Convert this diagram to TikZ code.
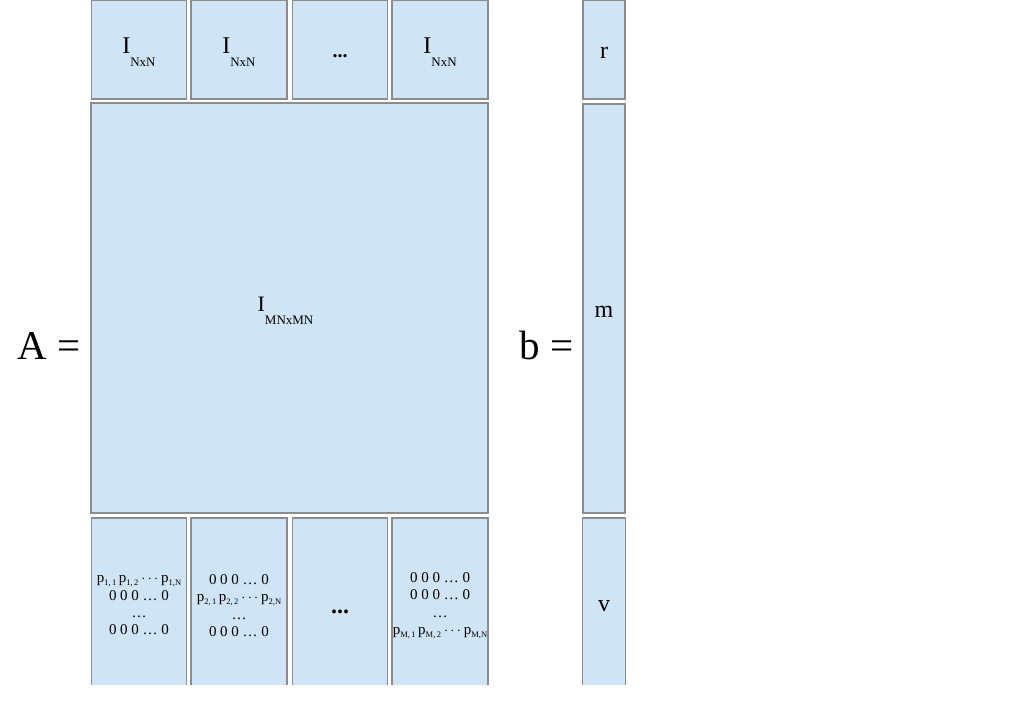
\documentclass[tikz,border=0pt]{standalone}
\usepackage{fontspec}
\setmainfont{Liberation Serif}
\usepackage{tikz}
\usepackage{xcolor}

\definecolor{cellblue}{RGB}{207,228,244}
\definecolor{cellgray}{RGB}{140,140,140}
\tikzset{
  cell/.style={fill=cellblue,draw=cellgray,line width=1.2pt,inner sep=0pt,outer sep=0pt},
  opencell/.style={fill=cellblue,inner sep=0pt,outer sep=0pt},
  celledge/.style={draw=cellgray,line width=1.2pt},
  entries/.style={inner sep=0pt,align=center,font=\fontsize{15}{17.3}\selectfont},
  bigdots/.style={inner sep=0pt,font=\fontsize{#1}{#1}\selectfont\bfseries},
  vecname/.style={inner sep=0pt,font=\fontsize{24}{24}\selectfont}
}
\newcommand{\Ilabel}[3]{{\fontsize{#1}{#1}\selectfont I}\raisebox{-13pt}{\fontsize{#2}{#2}\selectfont #3}}
\newcommand{\pel}[1]{p\raisebox{-3pt}{\fontsize{8.5}{8.5}\selectfont #1}}
\newcommand{\prow}[1]{\pel{#1,\,1}\hspace{2.5pt}\pel{#1,\,2}\hspace{3pt}$\cdots$\hspace{3pt}\pel{#1,N}}
\newcommand{\zrow}{0 0 0 … 0}

\begin{document}
\begin{tikzpicture}[x=1pt,y=-1pt]
    \useasboundingbox (0,0) rectangle (1024,724);
    % top row of A
    \node[cell,minimum width=95pt,minimum height=98.5pt] (top1) at (139,49.75) {};
    \node[cell,minimum width=96pt,minimum height=98.5pt] (top2) at (239,49.75) {};
    \node[cell,minimum width=95pt,minimum height=98.5pt] (top3) at (340,49.75) {};
    \node[cell,minimum width=96pt,minimum height=98.5pt] (top4) at (440,49.75) {};
    \node[inner sep=0pt] (toptext1) at ([yshift=-2pt]top1.center) {\Ilabel{24}{13}{NxN}};
    \node[inner sep=0pt] (toptext2) at ([yshift=-2pt]top2.center) {\Ilabel{24}{13}{NxN}};
    \node[bigdots=20,anchor=base] (toptext3) at ([yshift=-8pt]top3.center) {...};
    \node[inner sep=0pt] (toptext4) at ([yshift=-2pt]top4.center) {\Ilabel{24}{13}{NxN}};
    % middle block of A
    \node[cell,minimum width=397pt,minimum height=410pt] (mid) at (289.5,308) {};
    \node[inner sep=0pt] (midtext) at ([xshift=-4pt,yshift=-3pt]mid.center) {\Ilabel{22}{13}{MNxMN}};
    % bottom row of A (open at the bottom)
    \node[opencell,minimum width=95pt,minimum height=167pt] (bot1) at (139,601.5) {};
    \node[opencell,minimum width=96pt,minimum height=167pt] (bot2) at (239,601.5) {};
    \node[opencell,minimum width=95pt,minimum height=167pt] (bot3) at (340,601.5) {};
    \node[opencell,minimum width=96pt,minimum height=167pt] (bot4) at (440,601.5) {};
    \draw[celledge] (bot1.south west) |- (bot1.north east) -- (bot1.south east);
    \draw[celledge] (bot2.south west) |- (bot2.north east) -- (bot2.south east);
    \draw[celledge] (bot3.south west) |- (bot3.north east) -- (bot3.south east);
    \draw[celledge] (bot4.south west) |- (bot4.north east) -- (bot4.south east);
    \node[entries] (bottext1) at ([yshift=-4pt]bot1.center) {\prow{1}\\ \zrow\\ …\\ \zrow};
    \node[entries] (bottext2) at ([yshift=-4pt]bot2.center) {\zrow\\ \prow{2}\\ …\\ \zrow};
    \node[bigdots=24,anchor=base] (bottext3) at ([yshift=-12pt]bot3.center) {...};
    \node[entries] (bottext4) at ([yshift=-4pt]bot4.center) {\zrow\\ \zrow\\ …\\ \prow{M}};
    % vector b
    \node[cell,minimum width=42pt,minimum height=98.5pt] (br) at (604,49.75) {};
    \node[cell,minimum width=42pt,minimum height=409pt] (bm) at (604,308.5) {};
    \node[opencell,minimum width=43pt,minimum height=167pt] (bv) at (604,601.5) {};
    \draw[celledge] (bv.south west) |- (bv.north east) -- (bv.south east);
    \node[vecname] (rtext) at ([yshift=-3pt]br.center) {r};
    \node[vecname] (mtext) at ([yshift=-3pt]bm.center) {m};
    \node[vecname] (vtext) at ([yshift=-5pt]bv.center) {v};
    % names
    \node[font=\fontsize{41}{41}\selectfont,anchor=base] (nameA) at (49,359) {A =};
    \node[font=\fontsize{41}{41}\selectfont,anchor=base] (nameb) at (546.5,359) {b =};
\end{tikzpicture}
\end{document}
